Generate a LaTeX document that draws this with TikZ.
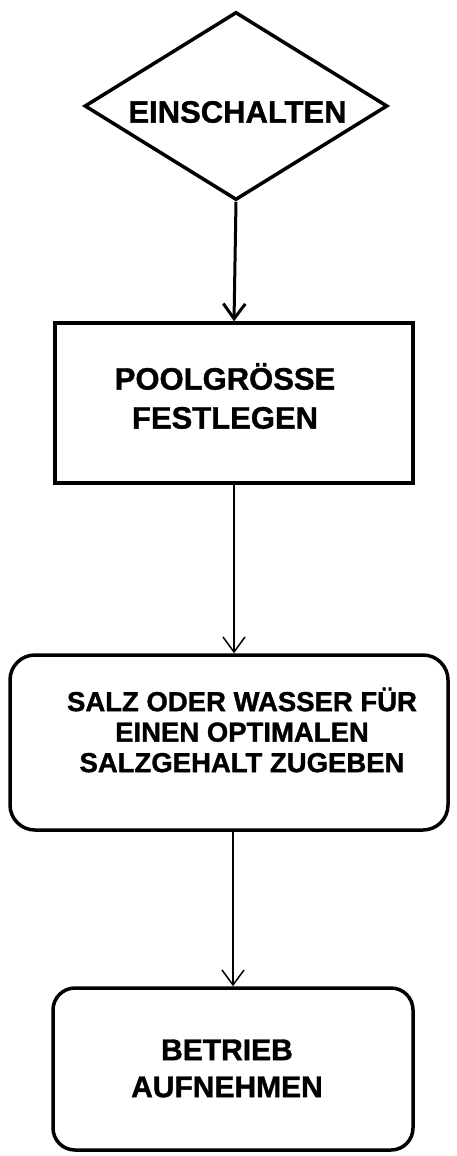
\documentclass[tikz,border=0pt]{standalone}
\usepackage{fontspec}
\setmainfont{Liberation Sans}[BoldFont=Liberation Sans Bold, BoldFeatures={FakeBold=1.2}]
\usetikzlibrary{arrows.meta,shapes.geometric}
\tikzset{
	startnode/.style={
			draw, diamond, line width=3.5pt, inner sep=0pt,
			minimum width=303pt, minimum height=188pt
		},
	flowbox/.style={draw, line width=3.5pt, inner sep=0pt},
	flowtext/.style={align=center, inner sep=0pt},
	flowarrow/.style={-{Straight Barb[length=15pt,width=22pt]}}
}

\begin{document}
\begin{tikzpicture}[x=1pt, y=-1pt]
        \useasboundingbox (0,0) rectangle (456,1156);
        % shapes
        \node[startnode] (einschalten) at (236,106) {};
        \node[flowbox, minimum width=358pt, minimum height=160pt] (poolgroesse) at (234,403) {};
        \node[flowbox, rounded corners=25pt, minimum width=438pt, minimum height=175pt] (salz) at (229,742.5) {};
        \node[flowbox, rounded corners=22pt, minimum width=360pt, minimum height=162pt] (betrieb) at (233,1069) {};
        % texts
        \node[flowtext, font=\bfseries\fontsize{31}{39}\selectfont] (einschaltentext) at (237.5,112) {EINSCHALTEN};
        \node[flowtext, font=\bfseries\fontsize{31}{39}\selectfont] (poolgroessetext) at (225,396) {POOLGRÖSSE\\FESTLEGEN};
        \node[flowtext, font=\bfseries\fontsize{27.5}{30.5}\selectfont] (salztext) at (242,730) {SALZ ODER WASSER FÜR\\EINEN OPTIMALEN\\SALZGEHALT ZUGEBEN};
        \node[flowtext, font=\bfseries\fontsize{30}{37}\selectfont] (betriebtext) at (227,1068.5) {BETRIEB\\AUFNEHMEN};
        % arrows
        \draw [flowarrow, line width=3pt] (einschalten.south) -- (poolgroesse.north);
        \draw [flowarrow, line width=1.5pt] (poolgroesse.south) -- (poolgroesse.south |- salz.north);
        \draw [flowarrow, line width=1.5pt] (salz.south -| betrieb.north) -- (betrieb.north);
    \end{tikzpicture}
\end{document}
